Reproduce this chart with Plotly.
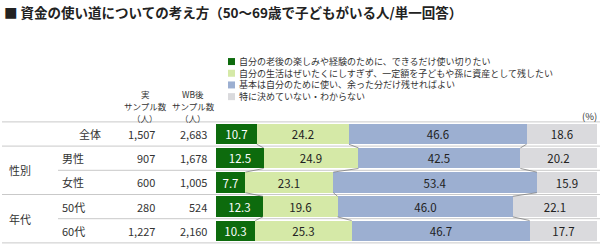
import plotly.graph_objects as go
import numpy as np

# ---- data ----
categories = ["全体", "男性", "女性", "50代", "60代"]
groups = ["", "性別", "性別", "年代", "年代"]
real_n = ["1,507", "907", "600", "280", "1,227"]
wb_n = ["2,683", "1,678", "1,005", "524", "2,160"]

series_names = [
    "自分の老後の楽しみや経験のために、できるだけ使い切りたい",
    "自分の生活はぜいたくにしすぎず、一定額を子どもや孫に資産として残したい",
    "基本は自分のために使い、余った分だけ残せればよい",
    "特に決めていない・わからない",
]
s1 = [10.7, 12.5, 7.7, 12.3, 10.3]
s2 = [24.2, 24.9, 23.1, 19.6, 25.3]
s3 = [46.6, 42.5, 53.4, 46.0, 46.7]
s4 = [18.6, 20.2, 15.9, 22.1, 17.7]
series_values = [s1, s2, s3, s4]

colors = ["#0d6b0d", "#d5e9a7", "#9cafd1", "#dadadd"]
text_colors = ["white", "#222222", "#222222", "#222222"]

W, H = 600, 244
JP = "Noto Sans CJK JP"
BAR_W = 0.85

def px(xp):
    return xp / W

def py(yp):
    return 1 - yp / H

rows = list(range(len(categories)))

fig = go.Figure()

# connector lines between consecutive bars
cum = np.cumsum(np.array(series_values), axis=0)  # shape (4, rows)
cx, cy = [], []
for k in range(len(series_values) - 1):
    for i in range(len(rows) - 1):
        cx += [cum[k][i], cum[k][i + 1], None]
        cy += [rows[i] + BAR_W / 2, rows[i + 1] - BAR_W / 2, None]
fig.add_trace(go.Scatter(x=cx, y=cy, mode="lines",
                         line=dict(color="#7f7f7f", width=0.8),
                         hoverinfo="skip", showlegend=False))

for name, vals, col, tcol in zip(series_names, series_values, colors, text_colors):
    fig.add_trace(go.Bar(
        y=rows, x=vals, orientation="h", name=name,
        marker=dict(color=col, line=dict(width=0)),
        width=BAR_W,
        text=[f"{v:.1f}" for v in vals],
        textposition="inside", insidetextanchor="middle",
        textangle=0,
        textfont=dict(family=JP, size=11.5, color=tcol),
        constraintext="none",
        showlegend=False, hoverinfo="skip",
    ))

x0_px, x100_px = 216, 597
ppu = (x100_px - x0_px) / 100
xr = [-x0_px / ppu, 100 + (W - x100_px) / ppu]
c0, pitch = 134, 24.2
yr = [(H - c0) / pitch, -c0 / pitch]

fig.update_layout(
    width=W, height=H, margin=dict(l=0, r=0, t=0, b=0),
    paper_bgcolor="white", plot_bgcolor="white",
    barmode="stack", bargap=0,
    xaxis=dict(range=xr, visible=False, fixedrange=True),
    yaxis=dict(range=yr, visible=False, fixedrange=True),
    uniformtext=dict(mode=False),
)

# separator lines
shapes = []
for yl, xs in [(-0.5, 2), (0.5, 2), (1.5, 58), (2.5, 2), (3.5, 58), (4.5, 2)]:
    shapes.append(dict(type="line", xref="paper", yref="y", x0=px(xs), x1=1,
                       y0=yl, y1=yl, line=dict(color="#c9c9c9", width=1), layer="below"))

# legend squares
leg_font = 9
leg_step = leg_font * 1.3
leg_mid = 79.1
leg_y = [leg_mid + (k - 1.5) * leg_step for k in range(len(series_names))]
for col, yy in zip(colors, leg_y):
    shapes.append(dict(type="rect", xref="paper", yref="paper",
                       x0=px(228), x1=px(235), y0=py(yy + 3.5), y1=py(yy - 3.5),
                       fillcolor=col, line=dict(width=0)))
fig.update_layout(shapes=shapes)

ann = []
# title
ann.append(dict(text="<b>■ 資金の使い道についての考え方（50〜69歳で子どもがいる人/単一回答）</b>",
                x=px(2), y=py(12), xref="paper", yref="paper", xanchor="left", yanchor="middle",
                showarrow=False, font=dict(family=JP, size=13.5, color="#222222")))
# legend texts (one block)
ann.append(dict(text="<br>".join(series_names), x=px(237), y=py(leg_mid), xref="paper", yref="paper",
                xanchor="left", yanchor="middle", align="left", showarrow=False,
                font=dict(family=JP, size=leg_font, color="#333333")))
# (%)
ann.append(dict(text="(%)", x=px(599), y=py(116), xref="paper", yref="paper",
                xanchor="right", yanchor="middle", showarrow=False,
                font=dict(family=JP, size=9.5, color="#333333")))
# column headers
for cxp, lines in [(145, ["実", "サンプル数", "（人）"]), (193, ["WB後", "サンプル数", "（人）"])]:
    for t, yy in zip(lines, [94, 106, 118]):
        ann.append(dict(text=t, x=px(cxp), y=py(yy), xref="paper", yref="paper",
                        xanchor="center", yanchor="middle", showarrow=False,
                        font=dict(family=JP, size=8.5, color="#333333")))
# rows
for i, (cat, g, rn, wn) in enumerate(zip(categories, groups, real_n, wb_n)):
    if g == "":
        ann.append(dict(text=cat, x=px(103), y=i, xref="paper", yref="y", xanchor="right",
                        yanchor="middle", showarrow=False, font=dict(family=JP, size=11, color="#333333")))
    else:
        ann.append(dict(text=cat, x=px(60), y=i, xref="paper", yref="y", xanchor="left",
                        yanchor="middle", showarrow=False, font=dict(family=JP, size=11, color="#333333")))
    ann.append(dict(text=rn, x=px(157), y=i, xref="paper", yref="y", xanchor="right",
                    yanchor="middle", showarrow=False, font=dict(family=JP, size=11, color="#333333")))
    ann.append(dict(text=wn, x=px(209), y=i, xref="paper", yref="y", xanchor="right",
                    yanchor="middle", showarrow=False, font=dict(family=JP, size=11, color="#333333")))
# group labels
seen = []
for g in groups:
    if g and g not in seen:
        seen.append(g)
        idx = [i for i, gg in enumerate(groups) if gg == g]
        ann.append(dict(text=g, x=px(7), y=sum(idx) / len(idx), xref="paper", yref="y",
                        xanchor="left", yanchor="middle", showarrow=False,
                        font=dict(family=JP, size=11, color="#333333")))
fig.update_layout(annotations=ann)

fig.write_html("out.html")
